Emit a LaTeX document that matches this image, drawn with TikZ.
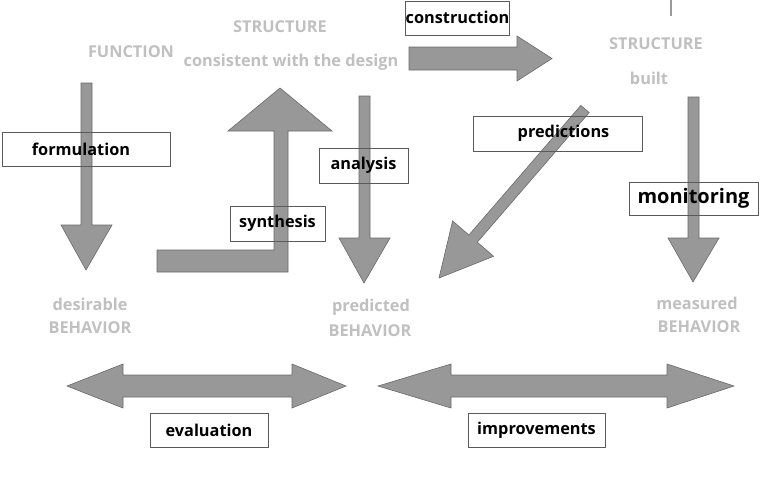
\documentclass[tikz,border=0pt]{standalone}
\usepackage{fontspec}
\setmainfont{Open Sans}
\begin{document}
\begin{tikzpicture}[x=1pt,y=-1pt,
  blockarrow/.style={fill=arrowgrey,draw=arrowedge,line width=0.6pt,line join=miter},
  labelbox/.style={draw=boxedge,line width=0.6pt,inner sep=0pt,font=\fontsize{16.3}{19}\selectfont\bfseries,text=black},
  greytext/.style={inner sep=0pt,text=lightgreytext,font=\fontsize{16.3}{19}\selectfont\bfseries}]
\definecolor{arrowgrey}{HTML}{989898}
\definecolor{arrowedge}{HTML}{6A6A6A}
\definecolor{boxedge}{HTML}{5A5A5A}
\definecolor{lightgreytext}{HTML}{C0C0C0}
\useasboundingbox (0,0) rectangle (760,491);
\fill[white] (0,0) rectangle (760,491);

% grey texts
\node[greytext] (function) at (131,52) {FUNCTION};
\node[greytext] (structA) at (280,27) {STRUCTURE};
\node[greytext] (consistent) at (291,62) {consistent with the design};
\node[greytext] (structB) at (656,44) {STRUCTURE};
\node[greytext] (built) at (649,78) {built};
\node[greytext] (desirable) at (90,304) {desirable};
\node[greytext] (behA) at (90,328) {BEHAVIOR};
\node[greytext] (predicted) at (371,307) {predicted};
\node[greytext] (behB) at (370,331) {BEHAVIOR};
\node[greytext] (measured) at (697,303) {measured};
\node[greytext] (behC) at (699,327) {BEHAVIOR};

% small tick at top
\coordinate (tickTop) at (671,0);
\coordinate (tickBot) at (671,16);
\draw[color=lightgreytext!80!black,line width=1.5pt] (tickTop) -- (tickBot);

% formulation arrow (down)
\draw[blockarrow] (81,83) -- (92,83) -- (92,225) -- (112,225) -- (86,270) -- (61,225) -- (81,225) -- cycle;
% synthesis L-arrow
\draw[blockarrow] (157,250) -- (274,250) -- (274,131) -- (228,131) -- (280,88) -- (332,131) -- (288,131) -- (288,272) -- (157,272) -- cycle;
% analysis arrow
\draw[blockarrow] (359,96) -- (370,96) -- (370,238) -- (390,238) -- (364,283) -- (339,238) -- (359,238) -- cycle;
% construction arrow (right)
\draw[blockarrow] (409,47) -- (517,47) -- (517,36) -- (552,58.5) -- (517,81) -- (517,70) -- (409,70) -- cycle;
% predictions diagonal arrow
\draw[blockarrow] (580.8,105.4) -- (468.9,235.0) -- (452.6,220.9) -- (439,278) -- (493.6,256.3) -- (477.3,242.2) -- (589.2,112.6) -- cycle;
% monitoring arrow
\draw[blockarrow] (688,97) -- (699,97) -- (699,238) -- (719,238) -- (693,282) -- (668,238) -- (688,238) -- cycle;
% evaluation double arrow
\draw[blockarrow] (67,386) -- (123,364) -- (123,375) -- (292,375) -- (292,364) -- (346,386) -- (292,408) -- (292,397) -- (123,397) -- (123,408) -- cycle;
% improvements double arrow
\draw[blockarrow] (378,386) -- (451,364) -- (451,375) -- (667,375) -- (667,364) -- (734,386) -- (667,408) -- (667,397) -- (451,397) -- (451,408) -- cycle;

% label boxes
\node[labelbox,minimum width=168pt,minimum height=34pt] (formulation) at (86,149) {\hspace*{-10pt}formulation};
\node[labelbox,minimum width=89pt,minimum height=35pt] (analysis) at (363.5,165.5) {analysis};
\node[labelbox,minimum width=95pt,minimum height=35pt] (synthesis) at (277.5,223.5) {synthesis};
\node[labelbox,minimum width=99pt,minimum height=34pt] (construction) at (457.5,18) {\raisebox{2pt}{construction}};
\node[labelbox,minimum width=169pt,minimum height=35pt] (predictions) at (557.5,133.5) {\hspace*{12pt}predictions};
\node[labelbox,minimum width=129pt,minimum height=33pt,font=\fontsize{20}{23}\selectfont\bfseries] (monitoring) at (693.5,198.5) {monitoring};
\node[labelbox,minimum width=118pt,minimum height=34pt] (evaluation) at (209,430) {evaluation};
\node[labelbox,minimum width=137pt,minimum height=34pt] (improvements) at (536.5,430) {\raisebox{3pt}{improvements}};
\end{tikzpicture}
\end{document}
